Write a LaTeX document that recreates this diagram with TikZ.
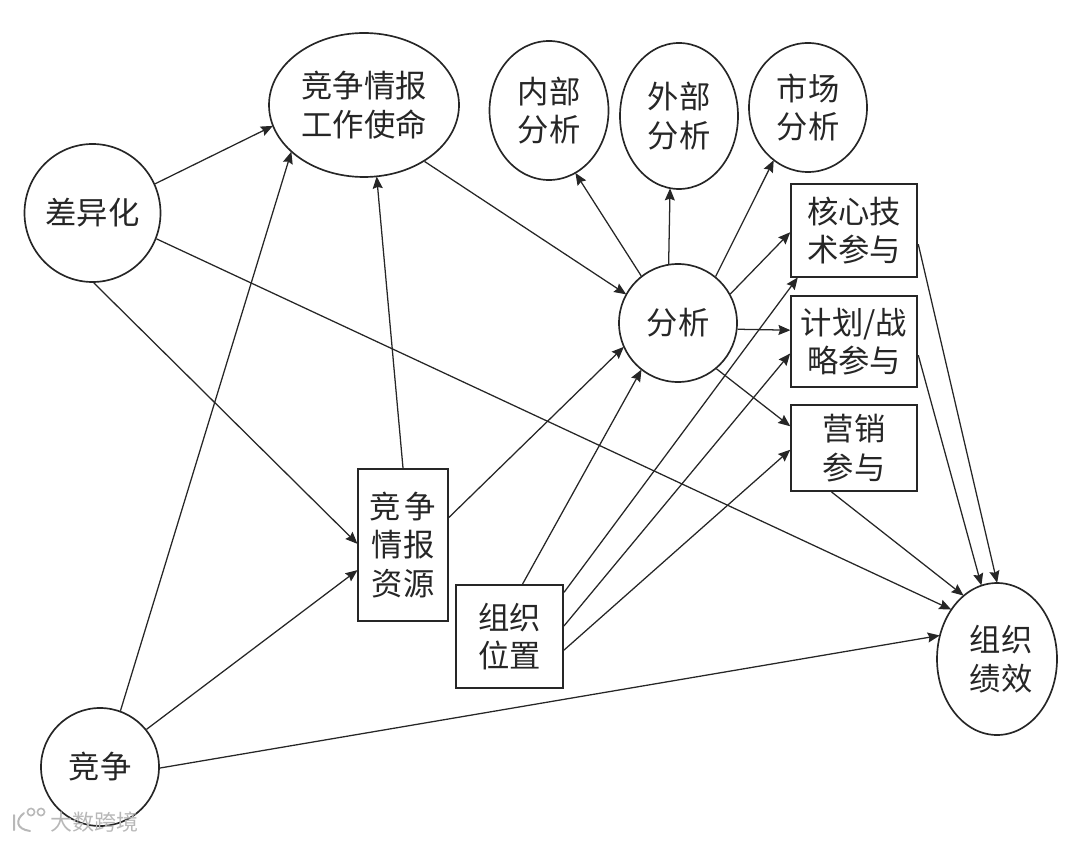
\documentclass[tikz,border=0pt]{standalone}
\usepackage{fontspec}
\setmainfont{Noto Sans CJK SC}
\usetikzlibrary{arrows.meta,shapes.geometric}
\definecolor{ink}{gray}{0.15}
\tikzset{
  px/.style={x=0.75pt,y=-0.75pt},
  lab/.style={font=\fontsize{23.5}{29}\selectfont,align=center,inner sep=0pt,text=ink},
  circ/.style={draw=ink,ellipse,lab,line width=1.25pt},
  box/.style={draw=ink,rectangle,lab,line width=1.5pt},
  conn/.style={draw=ink,line width=0.95pt,-{Stealth[length=9pt,width=7.5pt,inset=1.2pt]},shorten >=-0.5pt},
  ell/.style n args={2}{circ,minimum width=#1*0.75pt,minimum height=#2*0.75pt},
  bx/.style n args={2}{box,minimum width=#1*0.75pt,minimum height=#2*0.75pt},
  wm/.style={text=black!28,font=\fontsize{16.5}{20}\selectfont,inner sep=0pt}
}
\begin{document}
\begin{tikzpicture}[px]
\useasboundingbox (0,0) rectangle (1080,841);
\node[ell={190}{144}] (mission) at (364,105) {\raisebox{1.5pt}{竞争情报}\\\raisebox{1.5pt}{工作使命}};
\node[ell={119}{139}] (inner) at (549,110.5) {\raisebox{1.5pt}{内部}\\\raisebox{1.5pt}{分析}};
\node[ell={118}{146}] (outer) at (679,116) {\raisebox{1.5pt}{外部}\\\raisebox{1.5pt}{分析}};
\node[ell={118}{129}] (market) at (808,107.5) {市场\\分析};
\node[ell={136}{138}] (diff) at (92.5,213) {差异化};
\node[ell={118}{118}] (ana) at (678,323) {分析};
\node[ell={118}{118}] (comp) at (100,767) {竞争};
\node[ell={120}{152}] (perf) at (997,659) {\hspace*{6pt}组织\\\hspace*{6pt}绩效};
\node[bx={126.5}{93}] (core) at (854,230.5) {核心技\\术参与};
\node[bx={126.5}{91}] (plan) at (854,341.5) {计划/战\\略参与};
\node[bx={126.5}{86}] (mkt) at (854,448) {营销\\参与};
\node[bx={90}{152}] (res) at (403,545) {竞\hspace{3pt}争\\情报\\资源};
\node[bx={107}{103}] (org) at (509.5,636.5) {组织\\位置};
\draw[conn] (diff.25.5) -- (mission.193.5);
\draw[conn] (diff.-89) -- (res.178.7);
\draw[conn] (diff.-22.5) -- (perf.133);
\draw[conn] (comp.70.7) -- (mission.213.7);
\draw[conn] (comp.39.4) -- (res.209);
\draw[conn] (comp.-1) -- (perf.158);
\draw[conn] (res.90.8) -- (mission.280);
\draw[conn] (mission.-43.5) -- (ana.151);
\draw[conn] (res.31) -- (ana.204);
\draw[conn] (org.76.4) -- (ana.232.5);
\draw[conn] (ana.128) -- (inner.293.4);
\draw[conn] (ana.99.6) -- (outer.263);
\draw[conn] (ana.51.6) -- (market.237);
\draw[conn] (ana.29) -- (core.182.2);
\draw[conn] (ana.-6.8) -- (plan.170.7);
\draw[conn] (ana.-50) -- (mkt.161.6);
\draw[conn] (org.39) -- (core.220.3);
\draw[conn] (org.11) -- (plan.191.2);
\draw[conn] (org.-14) -- (mkt.182.7);
\draw[conn] (core.-12) -- (perf.90.8);
\draw[conn] (plan.-12) -- (perf.102.5);
\draw[conn] (mkt.243) -- (perf.118.7);
\node[wm,anchor=west] (mark) at (50,822) {大数跨境};
\draw[black!28,line width=1.5pt,line cap=round]
  (14,815) -- (14,830) (24,813) .. controls (15,820) and (16,829) .. (30,831);
\draw[black!28,line width=1.2pt] (31,812) circle (3.6) (41,812) circle (3.6);
\end{tikzpicture}
\end{document}
